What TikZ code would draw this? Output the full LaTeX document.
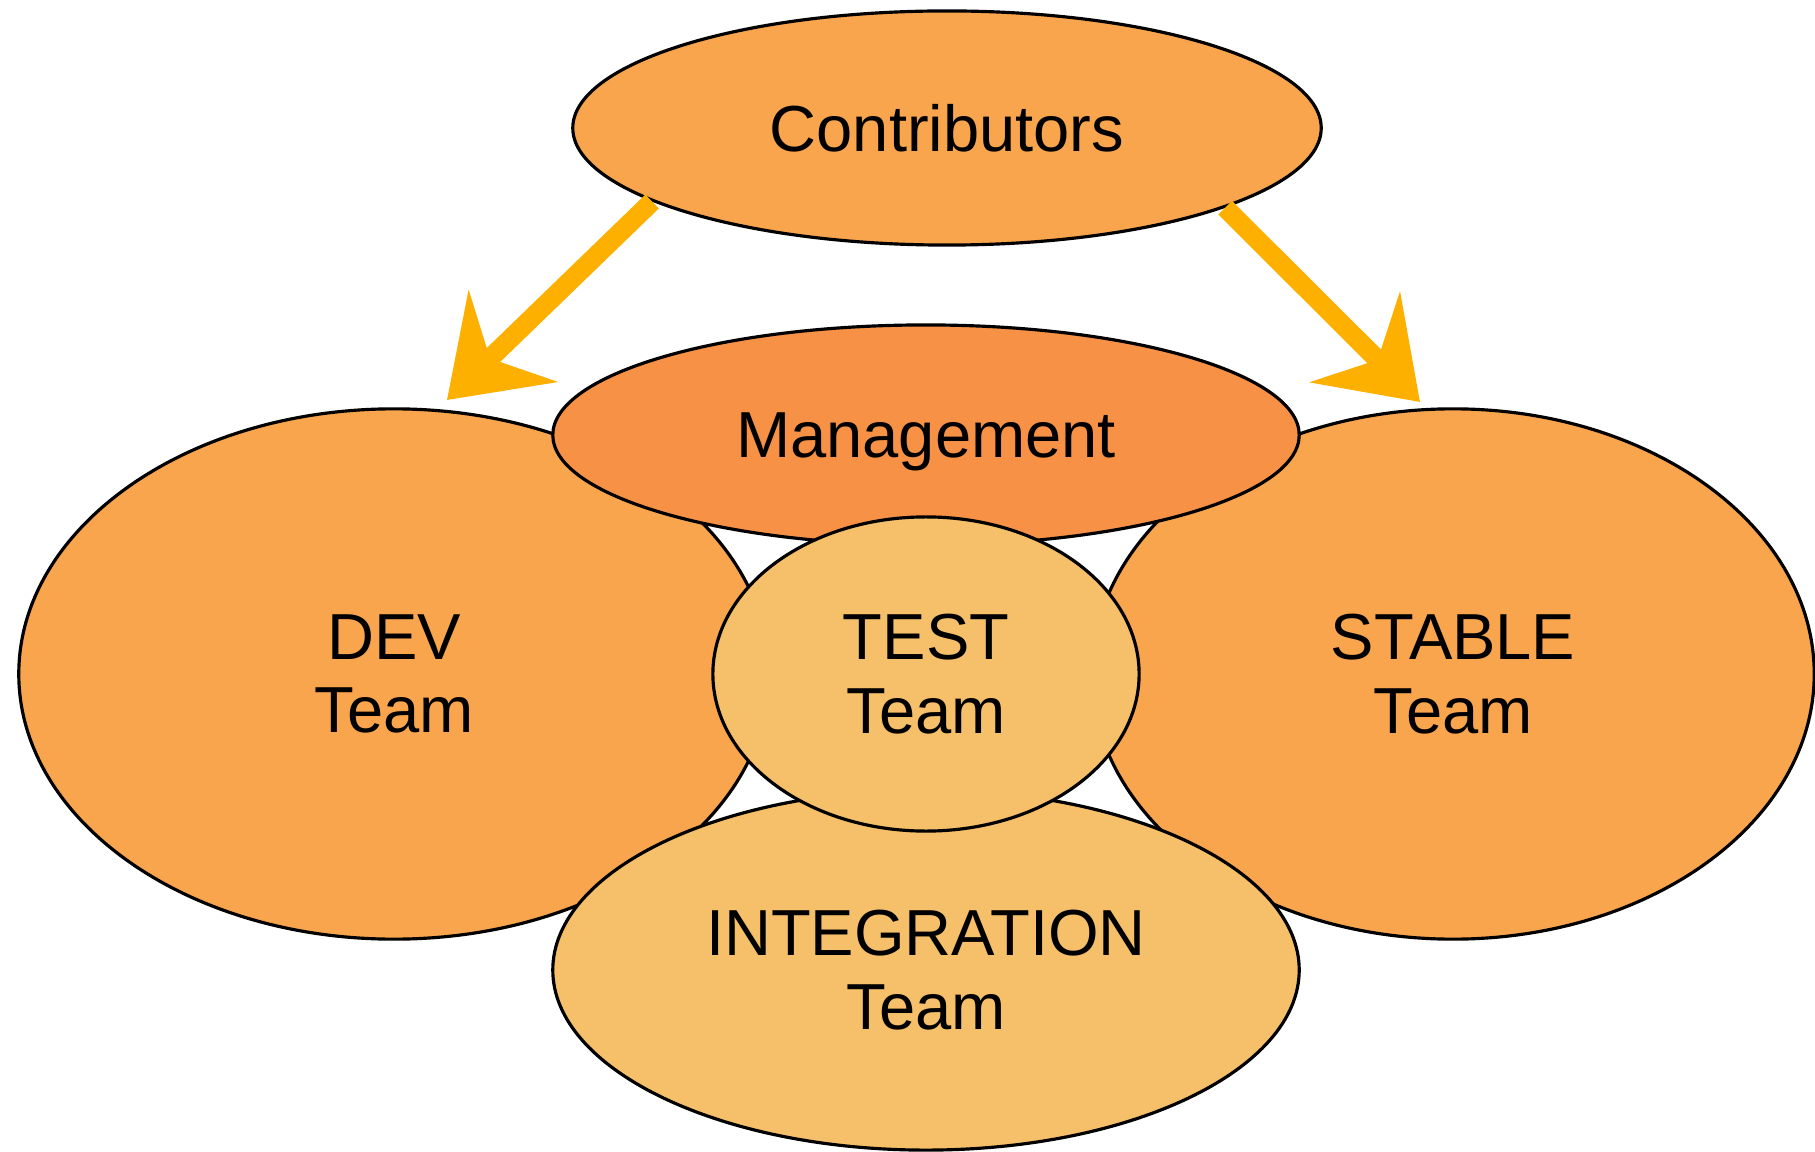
\documentclass[tikz,border=0pt]{standalone}
\usepackage{fontspec}
\setmainfont{Liberation Sans}
\usetikzlibrary{shapes.geometric,arrows.meta}
\definecolor{lightorange}{HTML}{F9A54D}
\definecolor{darkorange}{HTML}{F79145}
\definecolor{paleorange}{HTML}{F6BF69}
\definecolor{amber}{HTML}{FDB000}
\tikzset{team/.style={ellipse, draw, line width=0.9pt, inner sep=0pt, align=center, font=\fontsize{18.5}{21}\selectfont},
  push/.style={amber, line width=5.5pt, -{Stealth[length=26pt, width=36pt, inset=9pt]}}}
\begin{document}
\begin{tikzpicture}[x=0.01cm, y=-0.01cm]
\useasboundingbox (0,0) rectangle (1815,1152);
\node[team, fill=lightorange, minimum width=7.5cm, minimum height=5.3cm] (dev) at (394,674) {DEV\\Team};
\node[team, fill=lightorange, minimum width=7.22cm, minimum height=5.3cm] (stable) at (1453,674) {STABLE\\Team};
\node[team, fill=paleorange, minimum width=7.46cm, minimum height=3.6cm] (integ) at (926,970) {INTEGRATION\\Team};
\node[team, fill=darkorange, minimum width=7.46cm, minimum height=2.2cm, text depth=0pt] (mgmt) at (926,435) {Management};
\node[team, fill=paleorange, minimum width=4.26cm, minimum height=3.14cm] (test) at (926,674) {TEST\\Team};
\node[team, fill=lightorange, minimum width=7.48cm, minimum height=2.34cm] (contrib) at (947,128) {Contributors};
\coordinate (devin) at (447,400);
\coordinate (stablein) at (1420,402);
\draw[push] (contrib.194) -- (devin);
\draw[push] (contrib.344) -- (stablein);
\end{tikzpicture}
\end{document}
